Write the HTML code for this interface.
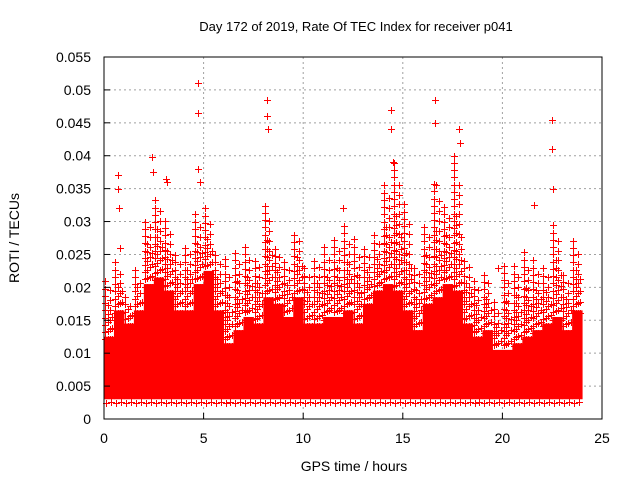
<!DOCTYPE html>
<html><head><meta charset="utf-8"><style>
body{margin:0;background:#fff}
svg{display:block;font-family:"Liberation Sans",sans-serif}
</style></head><body>
<svg id="chart" width="640" height="480" viewBox="0 0 640 480">
<text x="356" y="31" font-size="13" text-anchor="middle" fill="#000">Day 172 of 2019, Rate Of TEC Index for receiver p041</text>
<text x="354" y="471" font-size="14" text-anchor="middle">GPS time / hours</text>
<text x="0" y="0" font-size="14" text-anchor="middle" transform="translate(19,238) rotate(-90)">ROTI / TECUs</text>
<g id="grid"></g>
<g id="marks"></g>
<rect x="104" y="57" width="498" height="362" fill="none" stroke="#000" stroke-width="1"/>
<g id="ticks"></g>
</svg>
<script>
const xTicks=[0,5,10,15,20,25];
const yTicks=[0,0.005,0.01,0.015,0.02,0.025,0.03,0.035,0.04,0.045,0.05,0.055];
const yTickLabels=["0","0.005","0.01","0.015","0.02","0.025","0.03","0.035","0.04","0.045","0.05","0.055"];
const binStart=[0,0.5,1,1.5,2,2.5,3,3.5,4,4.5,5,5.5,6,6.5,7,7.5,8,8.5,9,9.5,10,10.5,11,11.5,12,12.5,13,13.5,14,14.5,15,15.5,16,16.5,17,17.5,18,18.5,19,19.5,20,20.5,21,21.5,22,22.5,23,23.5];
const denseTop=[0.0125,0.0165,0.0145,0.0165,0.0205,0.0215,0.0195,0.0165,0.0165,0.0205,0.0225,0.0165,0.0115,0.0135,0.0155,0.0145,0.0185,0.0175,0.0155,0.0185,0.0145,0.0145,0.0155,0.0155,0.0165,0.0145,0.0175,0.0195,0.0205,0.0195,0.0165,0.0135,0.0175,0.0185,0.0205,0.0195,0.0145,0.0125,0.0135,0.0105,0.0105,0.0115,0.0125,0.0135,0.0145,0.0155,0.0135,0.0165];
const sparseTop=[0.021,0.024,0.019,0.023,0.031,0.034,0.031,0.026,0.027,0.032,0.032,0.025,0.025,0.026,0.027,0.025,0.033,0.026,0.024,0.029,0.023,0.025,0.027,0.028,0.03,0.028,0.026,0.028,0.036,0.039,0.033,0.024,0.03,0.036,0.033,0.04,0.025,0.022,0.023,0.018,0.024,0.024,0.026,0.025,0.023,0.03,0.023,0.028];
const baseVal=[0.003,0.003,0.003,0.003,0.003,0.003,0.003,0.003,0.003,0.003,0.003,0.003,0.003,0.003,0.003,0.003,0.003,0.003,0.003,0.003,0.003,0.003,0.003,0.003,0.003,0.003,0.003,0.003,0.003,0.003,0.003,0.003,0.003,0.003,0.003,0.003,0.003,0.003,0.003,0.003,0.003,0.003,0.003,0.003,0.003,0.003,0.003,0.003];
const outX=[0.7,0.7,0.75,2.4,2.45,3.1,3.15,4.7,4.7,4.7,4.8,8.2,8.2,8.25,14.4,14.4,14.5,16.6,16.6,16.65,17.8,17.85,22.5,22.5,22.55,12,21.6,0.8,19.8];
const outY=[0.037,0.035,0.032,0.0398,0.0375,0.0365,0.036,0.051,0.0465,0.038,0.036,0.0485,0.046,0.044,0.047,0.044,0.039,0.0485,0.045,0.0355,0.044,0.042,0.0455,0.041,0.035,0.032,0.0325,0.026,0.023];
const X0=104,X1=602,Y0=419,Y1=57;
const xs=t=>X0+(X1-X0)*t/25;
const ys=v=>Y0-(Y0-Y1)*v/0.055;
const NS="http://www.w3.org/2000/svg";
function mk(tag,attrs,parent){const e=document.createElementNS(NS,tag);for(const k in attrs)e.setAttribute(k,attrs[k]);parent.appendChild(e);return e;}
const grid=document.getElementById('grid'),ticks=document.getElementById('ticks'),marks=document.getElementById('marks');
xTicks.forEach(t=>{
  if(t>0&&t<25){const l=mk('line',{x1:xs(t),x2:xs(t),y1:Y1,y2:Y0,stroke:'#a0a0a0','stroke-dasharray':'2,3'},grid);
  
  }
  const tk=mk('line',{x1:xs(t),x2:xs(t),y1:Y0,y2:Y0-6,stroke:'#000'},ticks);
  
  
  const tx=mk('text',{x:xs(t),y:443,'font-size':14,'text-anchor':'middle'},ticks);tx.textContent=t;
  
  
});
yTicks.forEach((v,i)=>{
  if(v>0&&v<0.055){const l=mk('line',{x1:X0,x2:X1,y1:ys(v),y2:ys(v),stroke:'#a0a0a0','stroke-dasharray':'2,3'},grid);
  
  }
  const tk=mk('line',{x1:X0,x2:X0+6,y1:ys(v),y2:ys(v),stroke:'#000'},ticks);
  
  
  const tx=mk('text',{x:91,y:ys(v)+5,'font-size':14,'text-anchor':'end'},ticks);tx.textContent=yTickLabels[i];
  
  
});
let d='';
function plus(x,y){const cx=Math.round(x)+0.5,cy=Math.round(y)+0.5;d+=`M${cx-3.5} ${cy}h7M${cx} ${cy-3.5}v7`;}
const colFrac=[1,0.6,0.85,0.45];
binStart.forEach((t,i)=>{
  const r=mk('rect',{x:xs(t),y:ys(denseTop[i]),width:xs(t+0.5)-xs(t)+0.5,height:ys(baseVal[i])-ys(denseTop[i]),fill:'#ff0000'},marks);
  
  
  for(let c=0;c<4;c++){
    const x=xs(t+0.06+c*0.12);
    const top=denseTop[i]+(sparseTop[i]-denseTop[i])*colFrac[c];
    for(let v=denseTop[i]-0.0004;v<=top;v+=0.0011+c*0.0002)plus(x,ys(v));
  }
  plus(xs(t+0.1),ys(baseVal[i]-0.0005));plus(xs(t+0.35),ys(baseVal[i]-0.0004));
});
outX.forEach((t,i)=>plus(xs(t),ys(outY[i])));
const p=mk('path',{d:d,stroke:'#ff0000','stroke-width':1,fill:'none','shape-rendering':'crispEdges'},marks);


</script>
</body></html>
